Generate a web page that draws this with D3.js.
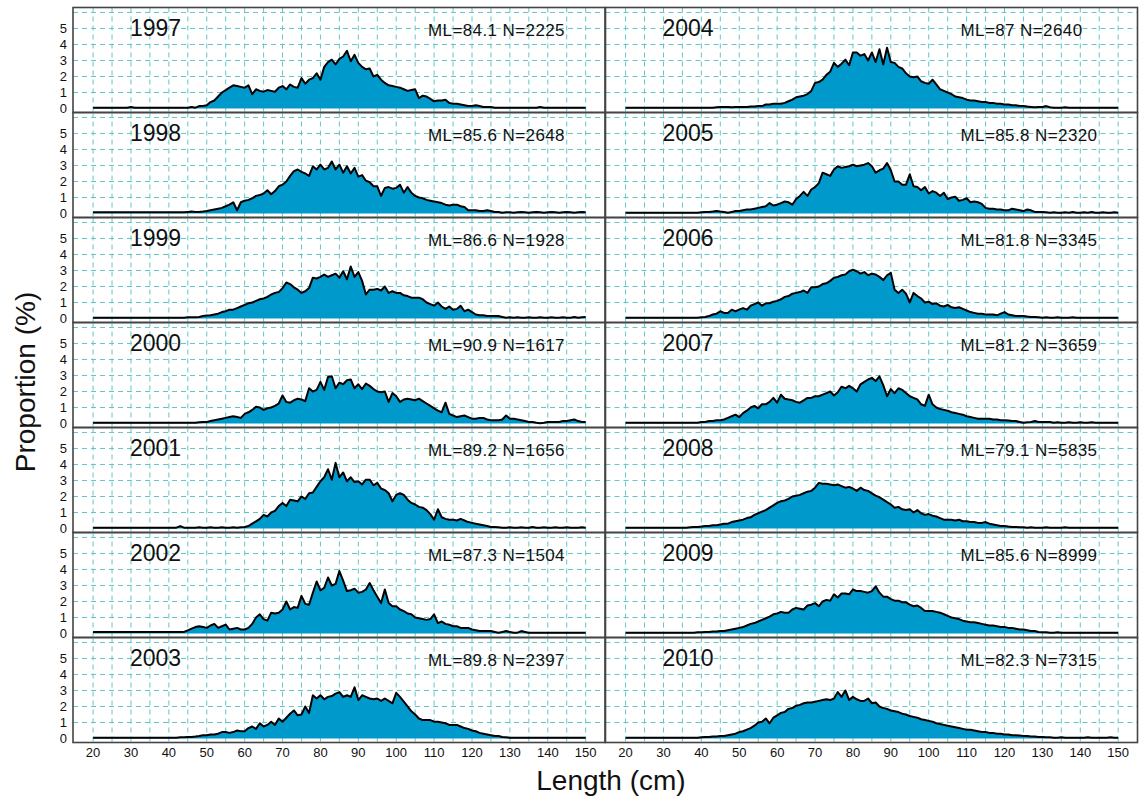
<!DOCTYPE html>
<html>
<head>
<meta charset="utf-8">
<script src="https://cdn.jsdelivr.net/npm/d3@7"></script>
<style>
  body { margin: 0; background: #fff; }
  svg { display: block; }
  text { font-family: "Liberation Sans", Arial, Helvetica, sans-serif; fill: #111; }
</style>
</head>
<body>
<svg width="1144" height="805"></svg>
<script>
// length classes run 20..150 cm, one value per cm (proportion, %)
const years = [1997, 1998, 1999, 2000, 2001, 2002, 2003, 2004, 2005, 2006, 2007, 2008, 2009, 2010];
const meanLength = ["84.1", "85.6", "86.6", "90.9", "89.2", "87.3", "89.8", "87", "85.8", "81.8", "81.2", "79.1", "85.6", "82.3"];
const sampleN = [2225, 2648, 1928, 1617, 1656, 1504, 2397, 2640, 2320, 3345, 3659, 5835, 8999, 7315];
const xTicks = [20, 30, 40, 50, 60, 70, 80, 90, 100, 110, 120, 130, 140, 150];
const yTicks = [0, 1, 2, 3, 4, 5];

const p1997 = [
  .05,.05,.05,.05,.05,.05,.05,.05,.05,.05,
  .1,.05,.05,.05,.05,.05,.05,.05,.05,.05,
  .05,.05,.05,.05,.05,.05,.1,.05,.15,.15,
  .2,.4,.5,.75,1.0,1.15,1.3,1.45,1.4,1.35,
  1.3,1.45,.9,1.2,1.1,1.05,1.15,1.1,1.05,1.3,
  1.4,1.2,1.5,1.35,1.3,1.9,1.55,1.8,1.9,2.2,
  1.8,2.6,2.9,3.05,2.75,3.1,3.25,3.6,2.95,3.35,
  2.85,2.6,2.45,2.5,2.0,2.1,1.8,1.6,1.45,1.4,
  1.35,1.3,1.2,1.1,1.15,1.2,.65,.8,.75,.6,
  .45,.5,.5,.55,.35,.3,.3,.25,.2,.15,
  .15,.2,.15,.1,.1,.1,.05,.05,.05,.05,
  .05,.05,.05,.05,.05,.05,.05,.05,.1,.05,
  .05,.05,.05,.05,.05,.05,.05,.05,.05,.05,
  .05];
const p1998 = [
  .08,.08,.08,.08,.08,.08,.08,.08,.08,.08,
  .08,.08,.08,.08,.08,.08,.08,.08,.08,.08,
  .08,.08,.08,.08,.08,.1,.12,.1,.1,.12,
  .15,.2,.25,.3,.35,.45,.55,.7,.2,.7,
  .8,.85,.95,1.1,1.15,1.25,1.45,1.2,1.4,1.7,
  1.8,2.0,2.35,2.65,2.75,2.6,2.5,2.35,2.95,2.75,
  3.05,2.75,2.85,3.25,2.75,3.05,2.55,2.95,2.5,2.85,
  2.3,2.4,2.05,1.95,1.7,1.7,1.1,1.6,1.65,1.55,
  1.6,1.8,1.3,1.65,1.3,1.1,1.0,.95,.85,.8,
  .75,.7,.65,.55,.5,.55,.55,.45,.4,.2,
  .2,.2,.15,.15,.2,.15,.1,.1,.05,.08,
  .08,.05,.08,.1,.08,.05,.08,.1,.08,.05,
  .08,.1,.08,.05,.08,.1,.08,.05,.08,.1,
  .08];
const p1999 = [
  .05,.05,.05,.05,.05,.05,.05,.05,.05,.05,
  .05,.05,.05,.05,.05,.05,.05,.05,.05,.05,
  .05,.05,.05,.05,.05,.08,.08,.08,.1,.15,
  .18,.2,.25,.3,.4,.45,.55,.55,.65,.75,
  .85,.95,1.0,1.1,1.2,1.25,1.35,1.5,1.6,1.65,
  1.9,2.25,2.15,1.95,1.8,1.6,1.7,1.9,2.55,2.5,
  2.6,2.75,2.6,2.7,2.8,2.55,2.95,2.45,3.25,2.6,
  2.9,2.35,1.5,1.8,1.8,1.85,1.75,2.0,1.6,1.7,
  1.6,1.6,1.45,1.4,1.3,1.3,1.3,1.2,1.0,.9,
  .8,1.0,.75,.6,.75,.55,.6,.8,.45,.55,
  .4,.25,.2,.2,.15,.15,.15,.15,.1,.05,
  .08,.05,.08,.05,.05,.08,.05,.05,.08,.05,
  .05,.08,.05,.05,.08,.05,.05,.1,.05,.08,
  .1];
const p2000 = [
  .05,.05,.05,.05,.05,.05,.05,.05,.05,.05,
  .05,.05,.05,.05,.05,.05,.05,.05,.05,.05,
  .05,.05,.05,.05,.05,.05,.05,.05,.08,.1,
  .1,.15,.2,.25,.3,.35,.4,.45,.4,.35,
  .6,.7,.85,1.05,1.0,.85,.95,1.0,1.1,1.25,
  1.75,1.35,1.3,1.45,1.55,1.5,1.4,2.2,2.0,2.1,
  2.6,2.1,2.9,2.95,2.2,2.55,2.45,2.7,2.75,2.2,
  2.45,2.15,2.5,2.35,2.15,2.0,1.95,2.0,1.35,1.9,
  1.7,1.35,1.5,1.55,1.5,1.45,1.55,1.4,1.25,1.1,
  .95,.8,.7,1.3,.6,.5,.4,.45,.5,.4,
  .3,.3,.35,.35,.25,.2,.2,.2,.25,.5,
  .3,.3,.25,.2,.15,.1,.1,.05,.02,.05,
  .1,.1,.1,.1,.15,.15,.2,.25,.15,.1,
  .1];
const p2001 = [
  .05,.05,.05,.05,.05,.05,.05,.05,.05,.05,
  .05,.05,.05,.05,.05,.05,.05,.05,.05,.05,
  .05,.05,.05,.15,.05,.05,.05,.05,.08,.05,
  .05,.08,.05,.05,.08,.05,.05,.08,.05,.08,
  .1,.15,.3,.45,.6,.85,.75,1.0,1.1,1.4,
  1.6,1.4,1.8,1.75,1.7,2.0,1.85,2.2,2.25,2.6,
  2.95,3.2,3.7,3.05,4.1,3.2,3.5,2.95,3.2,2.9,
  2.95,2.75,3.05,3.05,2.7,2.85,2.5,2.4,2.2,1.7,
  2.1,2.2,2.1,1.8,1.6,1.5,1.35,1.3,1.15,.9,
  .55,1.2,.7,.6,.55,.55,.5,.6,.5,.4,
  .35,.3,.25,.2,.15,.1,.1,.08,.05,.05,
  .08,.05,.05,.08,.05,.05,.1,.05,.05,.08,
  .05,.05,.08,.05,.05,.08,.05,.05,.05,.08,
  .05];
const p2002 = [
  .1,.1,.1,.1,.1,.1,.1,.1,.1,.1,
  .1,.1,.1,.1,.1,.1,.1,.1,.1,.1,
  .1,.1,.1,.1,.1,.2,.3,.4,.45,.4,
  .35,.5,.6,.35,.45,.55,.25,.3,.35,.25,
  .25,.35,.6,1.0,1.2,.9,.8,1.3,1.25,1.3,
  1.5,2.0,1.5,1.65,1.6,2.35,1.85,1.8,2.55,3.25,
  2.7,2.85,3.5,3.0,3.1,3.9,3.3,2.65,2.7,2.8,
  2.55,2.6,2.75,3.15,2.7,2.3,1.9,2.75,1.9,1.7,
  1.7,1.5,1.4,1.25,1.2,1.0,.95,.9,.85,.9,
  1.2,.65,.75,.6,.55,.45,.45,.35,.35,.35,
  .25,.2,.15,.15,.15,.15,.1,.05,.1,.15,
  .1,.05,.05,.15,.1,.05,.05,.05,.05,.05,
  .05,.05,.05,.05,.05,.05,.05,.05,.05,.05,
  .05];
const p2003 = [
  .05,.05,.05,.05,.05,.05,.05,.05,.05,.05,
  .05,.05,.05,.05,.05,.05,.05,.05,.05,.05,
  .05,.05,.05,.08,.08,.1,.1,.12,.15,.2,
  .2,.25,.25,.3,.4,.4,.35,.4,.5,.45,
  .45,.65,.75,.6,.95,.75,.85,1.05,.85,1.25,
  1.05,1.3,1.55,1.75,1.45,1.5,2.0,1.6,2.7,2.5,
  2.7,2.45,2.6,2.65,2.8,2.9,2.6,2.7,2.6,3.2,
  2.4,2.7,2.6,2.5,2.45,2.5,2.35,2.5,2.35,2.2,
  2.85,2.6,2.3,2.0,1.7,1.5,1.25,1.15,1.15,1.15,
  1.05,1.05,1.0,.95,.85,.85,.85,.75,.65,.6,
  .5,.45,.35,.3,.25,.2,.15,.15,.1,.08,
  .05,.05,.05,.05,.05,.05,.05,.05,.05,.05,
  .05,.05,.05,.05,.05,.05,.05,.05,.05,.05,
  .05];
const p2004 = [
  .05,.05,.05,.05,.05,.05,.05,.05,.05,.05,
  .05,.05,.05,.05,.05,.05,.05,.05,.05,.05,
  .05,.05,.05,.05,.08,.1,.1,.1,.08,.1,
  .1,.1,.1,.12,.12,.15,.15,.25,.25,.3,
  .3,.3,.35,.45,.55,.7,.75,.8,.9,1.1,
  1.6,1.65,1.8,2.1,2.3,2.85,2.6,2.8,3.05,2.7,
  3.5,3.5,3.3,3.4,3.0,3.5,2.9,3.7,2.75,3.8,
  2.9,2.85,2.6,2.5,2.2,2.0,1.95,2.0,1.7,1.6,
  1.55,1.8,1.5,1.2,1.1,1.0,.9,.75,.7,.65,
  .55,.5,.5,.45,.4,.4,.35,.35,.3,.3,
  .25,.25,.2,.2,.15,.15,.12,.1,.08,.1,
  .1,.15,.08,.05,.05,.05,.08,.05,.05,.05,
  .05,.05,.05,.05,.05,.05,.05,.05,.05,.05,
  .05];
const p2005 = [
  .05,.05,.05,.05,.05,.05,.05,.05,.05,.05,
  .05,.05,.05,.05,.05,.05,.05,.05,.05,.05,
  .08,.1,.1,.12,.15,.12,.1,.05,.1,.15,
  .15,.2,.25,.25,.3,.35,.4,.45,.65,.5,
  .55,.65,.75,.7,.55,.9,1.1,1.35,1.1,1.5,
  1.65,1.9,2.55,2.45,2.35,2.75,2.95,2.85,2.9,2.95,
  3.05,2.95,3.0,3.05,3.15,2.95,2.55,2.7,2.8,3.15,
  2.7,2.0,2.0,1.8,1.8,2.45,1.7,1.65,1.45,1.65,
  1.25,1.4,1.3,1.1,1.3,.9,1.0,1.05,.8,.85,
  .95,.7,.75,.7,.6,.35,.3,.3,.25,.25,
  .2,.2,.3,.25,.2,.15,.25,.2,.1,.1,
  .1,.08,.05,.08,.05,.05,.08,.05,.1,.05,
  .05,.08,.05,.1,.05,.05,.08,.05,.05,.08,
  .05];
const p2006 = [
  .05,.05,.05,.05,.05,.05,.05,.05,.05,.05,
  .05,.05,.05,.05,.05,.05,.05,.05,.05,.05,
  .08,.1,.15,.25,.3,.45,.35,.35,.55,.45,
  .55,.65,.55,.8,.9,1.0,.8,.95,.95,1.05,
  1.1,1.2,1.35,1.4,1.55,1.6,1.65,1.75,1.6,1.95,
  1.95,2.0,2.15,2.2,2.35,2.55,2.6,2.7,2.75,2.95,
  3.05,2.95,2.8,2.9,2.7,2.8,2.75,2.6,2.4,2.7,
  2.85,1.8,1.6,1.8,1.55,1.0,1.6,1.4,1.25,1.0,
  1.05,.9,.95,.8,.75,.85,.7,.65,.7,.6,
  .5,.4,.35,.3,.3,.25,.25,.25,.2,.3,
  .4,.25,.2,.15,.15,.15,.12,.1,.1,.08,
  .05,.08,.05,.05,.08,.05,.05,.05,.08,.05,
  .05,.05,.05,.05,.05,.05,.05,.05,.05,.05,
  .05];
const p2007 = [
  .05,.05,.05,.05,.05,.05,.05,.05,.05,.05,
  .05,.05,.05,.05,.05,.05,.05,.05,.05,.05,
  .1,.1,.15,.15,.2,.2,.25,.35,.45,.55,
  .4,.65,.8,1.0,1.1,.95,1.2,1.2,1.35,1.6,
  1.3,1.8,1.55,1.5,1.45,1.35,1.3,1.45,1.6,1.6,
  1.7,1.7,1.8,1.9,2.0,1.75,1.95,2.3,2.2,2.35,
  2.2,2.0,2.45,2.6,2.75,2.85,2.65,2.95,2.4,1.7,
  2.15,1.9,2.2,2.1,1.9,1.7,1.6,1.5,1.2,1.1,
  1.8,1.2,1.0,.9,.85,.8,.7,.65,.6,.55,
  .45,.4,.35,.3,.3,.3,.3,.25,.25,.2,
  .2,.18,.15,.15,.1,.05,.08,.1,.15,.1,
  .1,.1,.1,.05,.08,.05,.05,.08,.05,.05,
  .08,.05,.05,.08,.05,.05,.05,.05,.05,.05,
  .05];
const p2008 = [
  .05,.05,.05,.05,.05,.05,.05,.05,.05,.05,
  .05,.05,.05,.05,.05,.05,.05,.08,.1,.1,
  .12,.15,.15,.2,.2,.25,.3,.3,.4,.45,
  .5,.55,.65,.7,.85,.95,1.05,1.15,1.3,1.45,
  1.6,1.7,1.75,1.85,2.0,2.05,2.1,2.2,2.3,2.35,
  2.55,2.85,2.8,2.8,2.75,2.7,2.75,2.65,2.55,2.6,
  2.5,2.35,2.55,2.4,2.35,2.2,2.05,1.95,1.8,1.65,
  1.5,1.3,1.35,1.2,1.15,1.2,1.0,1.15,.95,.85,
  .9,.8,.75,.65,.55,.55,.55,.5,.55,.45,
  .45,.4,.4,.35,.35,.4,.3,.25,.2,.15,
  .15,.12,.1,.1,.08,.08,.05,.08,.05,.05,
  .05,.08,.05,.05,.05,.05,.08,.05,.05,.05,
  .05,.05,.05,.05,.05,.05,.05,.05,.05,.05,
  .05];
const p2009 = [
  .05,.05,.05,.05,.05,.05,.05,.05,.05,.05,
  .05,.05,.05,.05,.05,.05,.05,.05,.05,.08,
  .08,.1,.1,.12,.12,.15,.15,.2,.25,.3,
  .35,.4,.5,.6,.65,.75,.85,.95,1.05,1.2,
  1.25,1.35,1.3,1.3,1.5,1.6,1.55,1.5,1.75,1.8,
  1.9,1.7,2.0,2.1,2.05,2.45,2.25,2.5,2.5,2.45,
  2.75,2.65,2.65,2.6,2.55,2.65,2.95,2.55,2.3,2.3,
  2.15,2.05,2.05,1.95,1.95,1.8,1.7,1.75,1.6,1.4,
  1.4,1.4,1.35,1.3,1.2,1.1,1.0,.95,.9,.8,
  .75,.7,.7,.65,.6,.55,.5,.5,.45,.4,
  .4,.35,.35,.3,.25,.25,.2,.15,.15,.1,
  .08,.08,.05,.05,.08,.05,.05,.05,.05,.05,
  .05,.05,.05,.05,.05,.05,.05,.05,.05,.05,
  .05];
const p2010 = [
  .05,.05,.05,.05,.05,.05,.05,.05,.05,.05,
  .05,.05,.05,.05,.05,.05,.05,.05,.05,.05,
  .08,.1,.1,.12,.12,.15,.15,.2,.25,.3,
  .4,.45,.55,.65,.8,1.0,1.05,1.25,.95,1.3,
  1.45,1.6,1.65,1.85,1.9,2.05,2.1,2.2,2.25,2.25,
  2.3,2.35,2.4,2.45,2.4,2.5,2.9,2.6,3.0,2.4,
  2.6,2.45,2.35,2.35,2.5,2.2,2.25,2.0,1.9,1.85,
  1.75,1.7,1.65,1.55,1.5,1.4,1.35,1.3,1.2,1.15,
  1.1,1.05,.95,.9,.85,.8,.75,.7,.65,.6,
  .55,.55,.5,.45,.4,.4,.35,.35,.3,.3,
  .25,.25,.2,.2,.18,.15,.15,.12,.12,.1,
  .1,.08,.08,.05,.05,.08,.05,.05,.05,.05,
  .05,.05,.08,.05,.05,.05,.05,.05,.08,.05,
  .05];

const series = [p1997, p1998, p1999, p2000, p2001, p2002, p2003,
                p2004, p2005, p2006, p2007, p2008, p2009, p2010];

const svg = d3.select("svg");

const colX = [73, 605.5];
const panelW = 532;
const panelH = 105;
const top0 = 7.5;

const x = d3.scaleLinear().domain([14.7, 155.1]).range([0, panelW]);
const y = d3.scaleLinear().domain([-0.25, 6.31]).range([panelH, 0]);

const gridX = d3.range(20, 151, 5);
const gridY = [1, 2, 3, 4, 5, 6];

const area = d3.area()
    .x((d, i) => x(20 + i))
    .y0(y(0))
    .y1(d => y(d));
const line = d3.line()
    .x((d, i) => x(20 + i))
    .y(d => y(d));

svg.append("defs").append("clipPath")
    .attr("id", "panel-clip")
    .append("rect")
    .attr("width", panelW)
    .attr("height", panelH);

years.forEach((yr, k) => {
    const col = k < 7 ? 0 : 1;
    const row = k % 7;
    const g = svg.append("g")
        .attr("transform", `translate(${colX[col]},${top0 + row * panelH})`);

    const inner = g.append("g").attr("clip-path", "url(#panel-clip)");

    // dashed grid
    inner.selectAll(".gx")
        .data(gridX)
        .join("line")
        .attr("x1", d => x(d)).attr("x2", d => x(d))
        .attr("y1", 0).attr("y2", panelH)
        .attr("stroke", "#62c6c6")
        .attr("stroke-width", 1)
        .attr("stroke-dasharray", "5,4");
    inner.selectAll(".gy")
        .data(gridY)
        .join("line")
        .attr("x1", 0).attr("x2", panelW)
        .attr("y1", d => y(d)).attr("y2", d => y(d))
        .attr("stroke", "#62c6c6")
        .attr("stroke-width", 1)
        .attr("stroke-dasharray", "5,4");

    inner.append("path")
        .datum(series[k])
        .attr("d", area)
        .attr("fill", "#0099cc");
    inner.append("path")
        .datum(series[k])
        .attr("d", line)
        .attr("fill", "none")
        .attr("stroke", "#000")
        .attr("stroke-width", 2)
        .attr("stroke-linejoin", "round");

    g.append("text")
        .attr("x", 57)
        .attr("y", 28)
        .attr("font-size", 23)
        .text(yr);

    g.append("text")
        .attr("x", 355)
        .attr("y", 28)
        .attr("font-size", 17)
        .attr("letter-spacing", 0.4)
        .text(`ML=${meanLength[k]} N=${sampleN[k]}`);

    g.append("rect")
        .attr("width", panelW)
        .attr("height", panelH)
        .attr("fill", "none")
        .attr("stroke", "#444")
        .attr("stroke-width", 1.6);

    if (col === 0) {
        g.selectAll(".ytick")
            .data(yTicks)
            .join("text")
            .attr("x", -6)
            .attr("y", d => y(d))
            .attr("dy", "0.36em")
            .attr("text-anchor", "end")
            .attr("font-size", 13)
            .text(d => d);
    }

    if (row === 6) {
        g.selectAll(".xtick")
            .data(xTicks)
            .join("text")
            .attr("x", d => x(d))
            .attr("y", panelH + 14)
            .attr("text-anchor", "middle")
            .attr("font-size", 13)
            .text(d => d);
    }
});

svg.append("text")
    .attr("transform", "translate(35,382) rotate(-90)")
    .attr("text-anchor", "middle")
    .attr("font-size", 28)
    .text("Proportion (%)");

svg.append("text")
    .attr("x", 611)
    .attr("y", 790)
    .attr("text-anchor", "middle")
    .attr("font-size", 28)
    .text("Length (cm)");
</script>
</body>
</html>
